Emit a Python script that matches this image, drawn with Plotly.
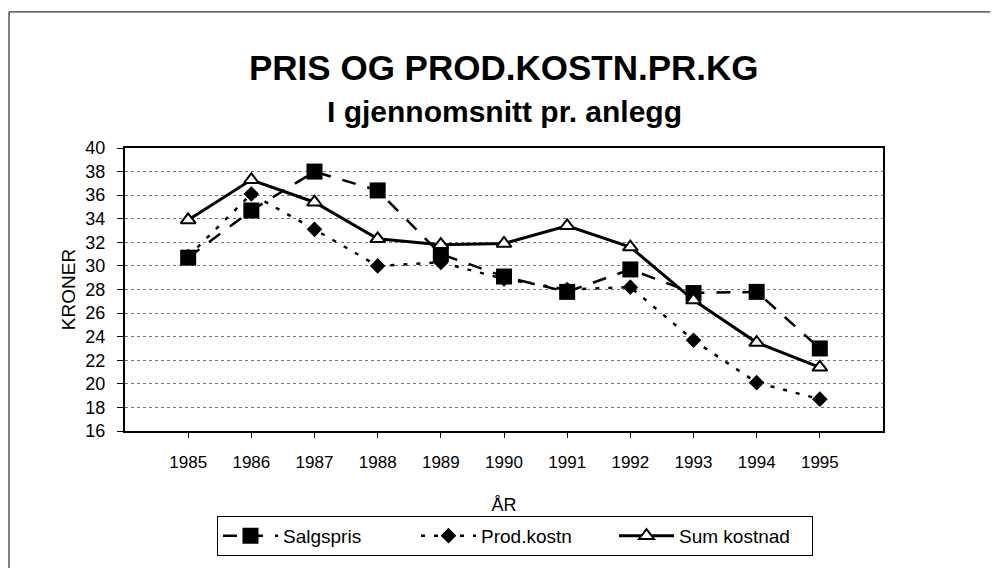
import plotly.graph_objects as go

years = [1985, 1986, 1987, 1988, 1989, 1990, 1991, 1992, 1993, 1994, 1995]
salgspris = [30.7, 34.7, 38.0, 36.4, 31.0, 29.1, 27.8, 29.7, 27.7, 27.8, 23.0]
prod_kostn = [30.8, 36.1, 33.1, 30.0, 30.3, 28.9, 28.0, 28.2, 23.7, 20.1, 18.7]
sum_kostnad = [33.9, 37.3, 35.4, 32.3, 31.8, 31.9, 33.4, 31.6, 27.1, 23.5, 21.4]
y_ticks = list(range(16, 41, 2))

FONT = "Arial, Liberation Sans, sans-serif"

W, H = 990, 560
L, R, T, B = 117, 115, 140, 133
PW, PH = W - L - R, H - T - B


def px_y(y):
    return (H - B - y) / PH


def px_x(x):
    return (x - L) / PW


fig = go.Figure()
fig.add_trace(go.Scatter(
    x=years, y=salgspris, name="Salgspris", mode="lines+markers",
    line=dict(color="black", width=2.5, dash="14px,12px"),
    marker=dict(symbol="square", size=16, color="black"),
))
fig.add_trace(go.Scatter(
    x=years, y=prod_kostn, name="Prod.kostn", mode="lines+markers",
    line=dict(color="black", width=2.5, dash="4px,9px"),
    marker=dict(symbol="diamond", size=12, color="black"),
))
fig.add_trace(go.Scatter(
    x=years, y=sum_kostnad, name="Sum kostnad", mode="lines+markers",
    line=dict(color="black", width=3),
    marker=dict(symbol="triangle-up", size=13, color="white",
                line=dict(color="black", width=2)),
))

fig.update_layout(
    width=W, height=H,
    margin=dict(l=L, r=R, t=T, b=B),
    paper_bgcolor="white", plot_bgcolor="white",
    font=dict(family=FONT, color="black", size=16),
    showlegend=True,
    legend=dict(
        orientation="h", x=px_x(507), xanchor="center", y=px_y(513), yanchor="top",
        bordercolor="black", borderwidth=1, font=dict(size=19),
        itemwidth=55, entrywidth=128, traceorder="normal",
    ),
    annotations=[
        dict(text="<b>PRIS OG PROD.KOSTN.PR.KG</b>", x=0.5, y=px_y(58), xref="paper",
             yref="paper", yanchor="middle", showarrow=False, font=dict(size=35)),
        dict(text="<b>I gjennomsnitt pr. anlegg</b>", x=0.5, y=px_y(103), xref="paper",
             yref="paper", yanchor="middle", showarrow=False, font=dict(size=30)),
    ],
)

fig.update_xaxes(
    range=[1984, 1996], tickvals=years, ticktext=[str(y) for y in years],
    showgrid=False, showline=True, linecolor="black", linewidth=2, mirror=True,
    ticks="outside", ticklen=5, tickcolor="black", ticklabelstandoff=10,
    tickfont=dict(size=17), zeroline=False,
    title=dict(text="ÅR", font=dict(size=18), standoff=27),
)
fig.update_yaxes(
    range=[16, 40], tickvals=y_ticks, showgrid=True, gridcolor="#777",
    griddash="dot", gridwidth=1,
    showline=True, linecolor="black", linewidth=2, mirror=True,
    ticks="outside", ticklen=6, tickcolor="black", ticklabelstandoff=8,
    tickfont=dict(size=18), zeroline=False,
    title=dict(text="KRONER", font=dict(size=19), standoff=5),
)

# outer frame
fig.add_shape(type="rect", xref="paper", yref="paper",
              x0=px_x(1), x1=px_x(1010), y0=px_y(620), y1=px_y(2),
              line=dict(color="black", width=1), layer="below")

fig.write_html("out.html")
